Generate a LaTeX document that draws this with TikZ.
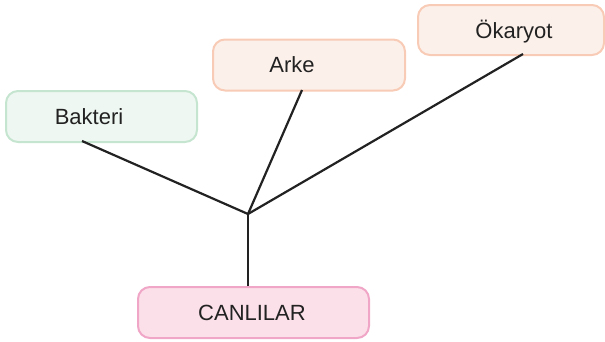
\documentclass[tikz,border=0pt]{standalone}
\usepackage{fontspec}
\setmainfont{Liberation Sans}
\definecolor{grfill}{HTML}{EEF7F1}
\definecolor{grline}{HTML}{C6E5D0}
\definecolor{orfill}{HTML}{FCF0EA}
\definecolor{orline}{HTML}{F8CBB6}
\definecolor{pkfill}{HTML}{FCE0E9}
\definecolor{pkline}{HTML}{F0A6C6}
\definecolor{ink}{HTML}{222222}
\begin{document}
\begin{tikzpicture}[x=1pt,y=-1pt,
  box/.style={draw=#1line, fill=#1fill, line width=2pt, rounded corners=12pt, inner sep=0pt},
  lbl/.style={font=\fontsize{22}{25}\selectfont, text=ink, inner sep=0pt},
  link/.style={draw=ink, line width=2.2pt}]
\useasboundingbox (0,0) rectangle (605,341);
% taxon boxes
\node[box=gr, minimum width=191pt, minimum height=51pt] (bak) at (101.5,116.5) {};
\node[lbl] (baktxt) at (89,117) {Bakteri};
\node[box=or, minimum width=192pt, minimum height=51pt] (ark) at (309,65) {};
\node[lbl] (arktxt) at (292,65) {Arke};
\node[box=or, minimum width=186pt, minimum height=50pt] (oka) at (511,30) {};
\node[lbl] (okatxt) at (514,32) {Ökaryot};
\node[box=pk, minimum width=231pt, minimum height=51pt] (can) at (253.5,312.5) {};
\node[lbl] (cantxt) at (252,313) {CANLILAR};
% branching point
\coordinate (root) at (248,214);
\coordinate (bakfoot) at (82,141);
\coordinate (arkfoot) at (302,90);
\coordinate (okafoot) at (523,54);
\draw[link] (can.north -| root) -- (root);
\draw[link] (root) -- (bakfoot);
\draw[link] (root) -- (arkfoot);
\draw[link] (root) -- (okafoot);
\end{tikzpicture}
\end{document}
